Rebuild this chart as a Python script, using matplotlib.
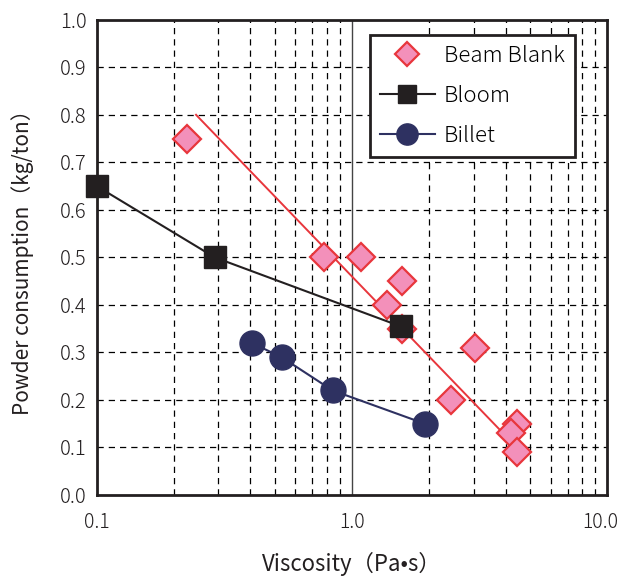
import numpy as np
import matplotlib.pyplot as plt
import matplotlib.transforms as mtransforms
from matplotlib.ticker import FixedLocator, NullFormatter

plt.rcParams['font.family'] = ['Noto Sans CJK JP', 'DejaVu Sans']
plt.rcParams['font.weight'] = 'light'

# data
beam_x = [0.225, 0.78, 1.09, 1.37, 1.57, 1.57, 3.04, 2.44, 4.42, 4.19, 4.42]
beam_y = [0.75, 0.50, 0.50, 0.40, 0.45, 0.35, 0.31, 0.20, 0.15, 0.13, 0.09]
fit_x = [0.245, 4.25]
fit_y = [0.80, 0.11]
bloom_x = [0.1, 0.29, 1.55]
bloom_y = [0.65, 0.50, 0.355]
billet_x = [0.405, 0.53, 0.84, 1.93]
billet_y = [0.32, 0.29, 0.22, 0.15]

pink = '#F390BA'
red = '#E8363C'
black = '#231F20'
navy = '#2E3161'

fig = plt.figure(figsize=(6.24, 5.81), dpi=100)
ax = fig.add_axes([0.155, 0.148, 0.818, 0.818])

ax.set_xscale('log')
ax.set_xlim(0.1, 10)
ax.set_ylim(0, 1.0)

# grid
minors = [m * d for d in (0.1, 1.0) for m in range(2, 10)]
for v in minors:
    ax.axvline(v, color='black', lw=0.9, ls=(0, (5, 4)), zorder=1)
ax.axvline(1.0, color='#444444', lw=1.0, zorder=1)
for v in np.arange(0.1, 1.0, 0.1):
    ax.axhline(v, color='black', lw=0.9, ls=(0, (5, 4)), zorder=1)

ax.plot(fit_x, fit_y, color=red, lw=1.4, zorder=3)
ax.plot(beam_x, beam_y, ls='none', marker='D', ms=14, mfc=pink, mec=red,
        mew=1.6, zorder=4, label='Beam Blank')
ax.plot(bloom_x, bloom_y, color=black, lw=1.5, marker='s', ms=16, mfc=black,
        mec=black, zorder=5, label='Bloom', clip_on=False)
ax.plot(billet_x, billet_y, color=navy, lw=1.5, marker='o', ms=18, mfc=navy,
        mec=navy, zorder=5, label='Billet')

ax.xaxis.set_major_locator(FixedLocator([0.1, 1.0, 10.0]))
ax.xaxis.set_minor_locator(FixedLocator([]))
ax.xaxis.set_minor_formatter(NullFormatter())
ax.set_xticklabels(['0.1', '1.0', '10.0'])
ax.set_yticks(np.arange(0, 1.01, 0.1))
ax.set_yticklabels(['%.1f' % v for v in np.arange(0, 1.01, 0.1)])
ax.tick_params(length=0, labelsize=14.5, colors='#231F20')
ax.tick_params(axis='x', pad=12, labelsize=14)
ax.tick_params(axis='y', pad=7)

# keep the last x label inside the figure
last = ax.get_xticklabels()[-1]
last.set_transform(last.get_transform() +
                   mtransforms.ScaledTranslation(-5 / 72, 0, fig.dpi_scale_trans))

for s in ax.spines.values():
    s.set_linewidth(2)
    s.set_color(black)

ax.set_xlabel('Viscosity（Pa•s）', fontsize=16, labelpad=14, color='#231F20')
ax.set_ylabel('Powder consumption（kg/ton）', fontsize=15, labelpad=19, color='#231F20')

leg = ax.legend(loc='upper right', bbox_to_anchor=(0.937, 0.968), borderaxespad=0,
                fontsize=16, frameon=True, fancybox=False, borderpad=0.45,
                labelspacing=0.8, handlelength=2.5, handletextpad=0.4,
                markerscale=0.85)
leg.get_frame().set_edgecolor(black)
leg.get_frame().set_linewidth(2)
leg.get_frame().set_alpha(1)

plt.savefig('out.png', dpi=100)
